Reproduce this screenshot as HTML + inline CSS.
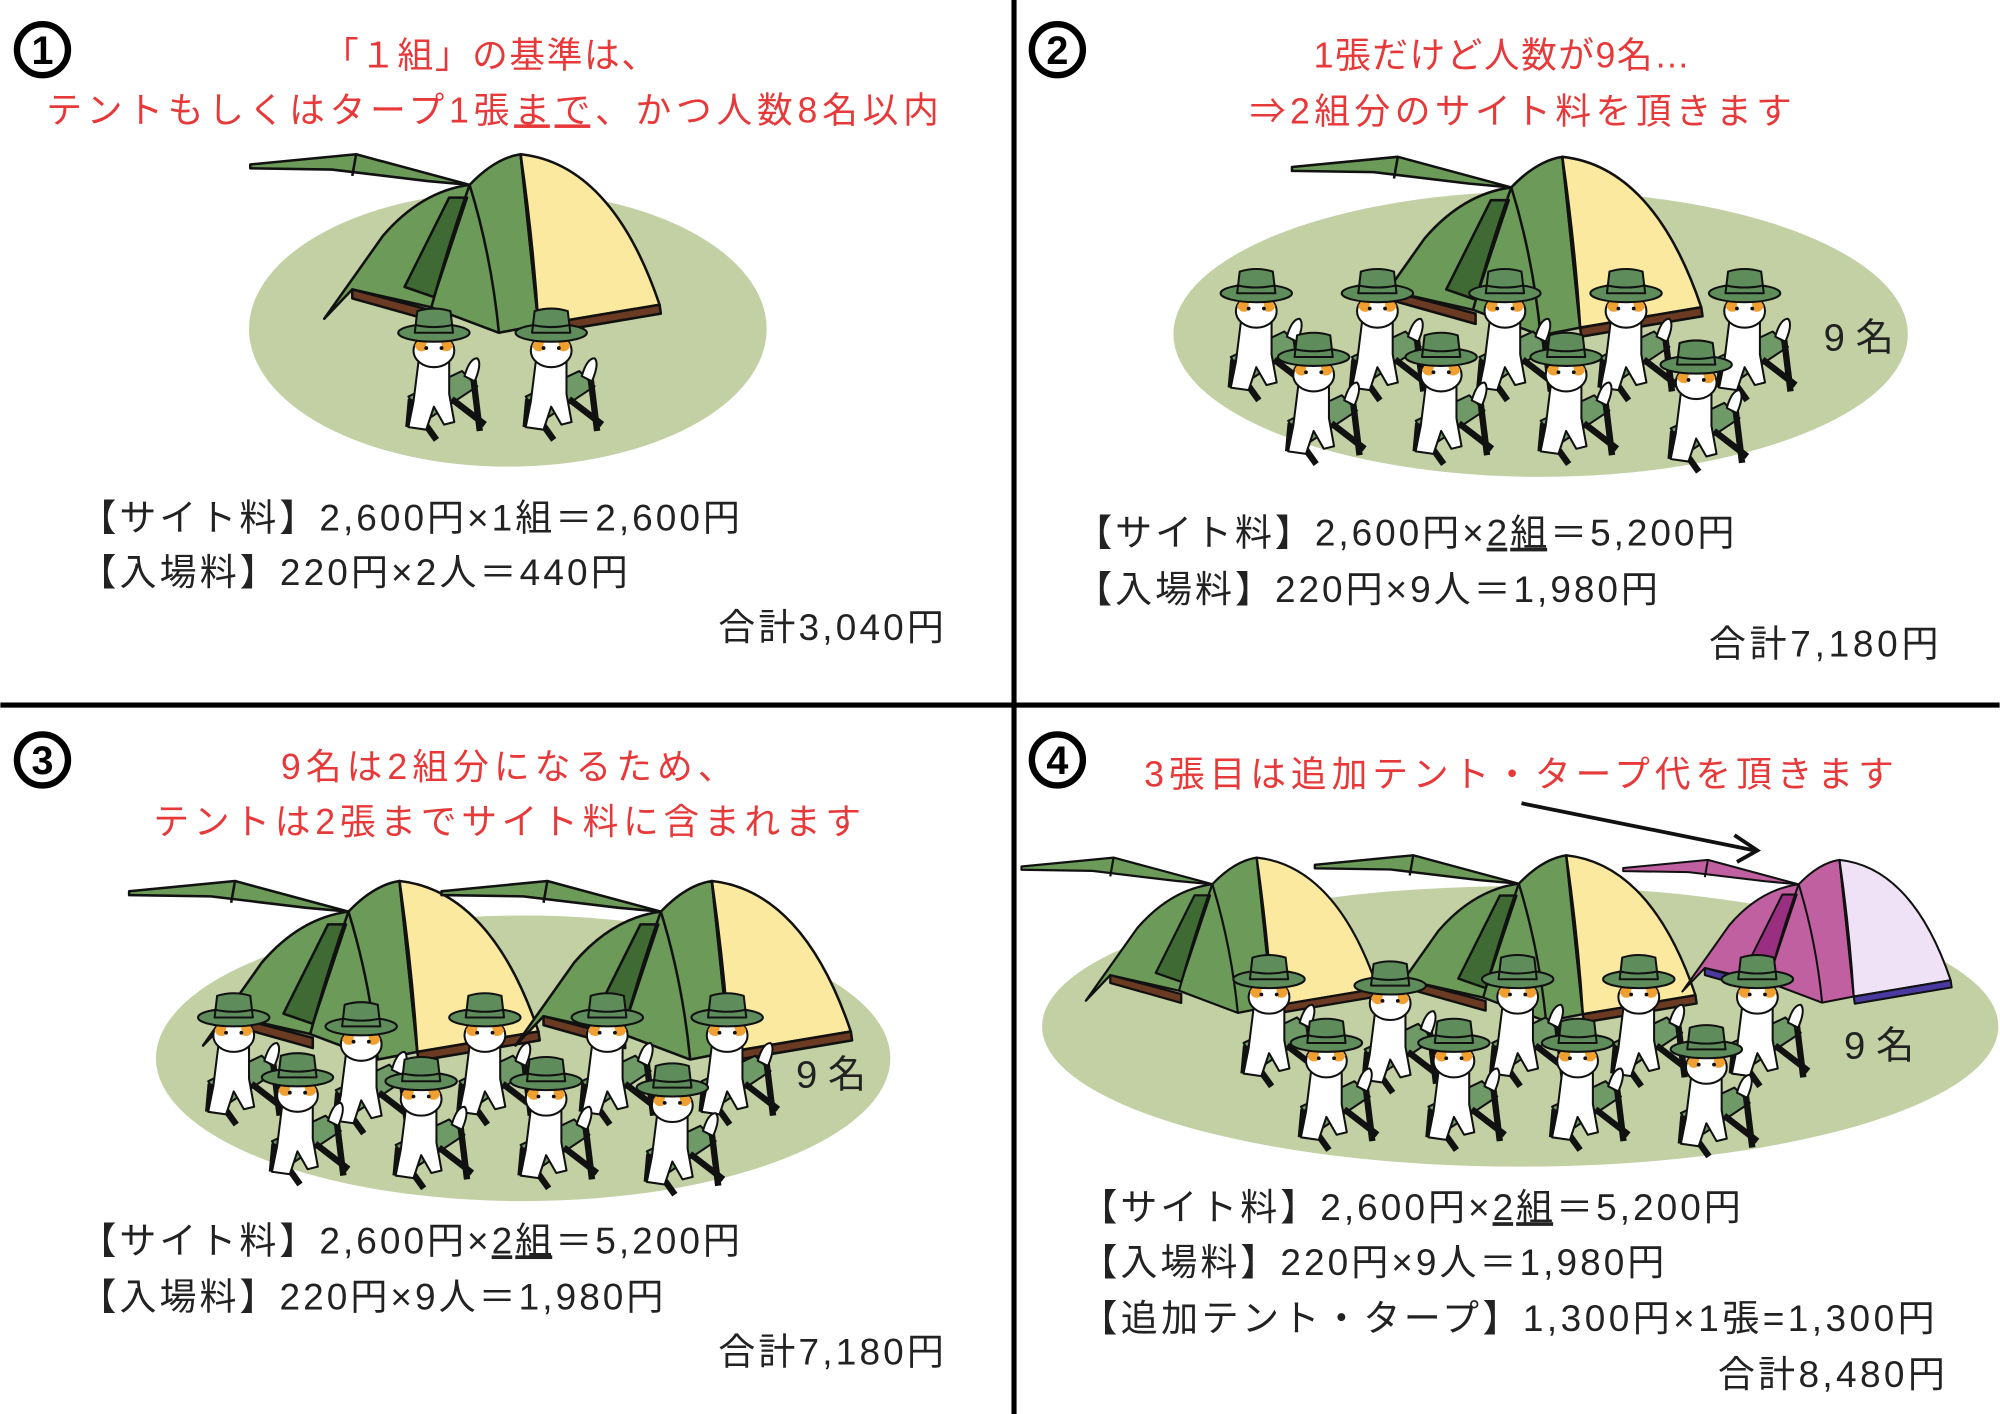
<!DOCTYPE html>
<html><head><meta charset="utf-8"><style>
html,body{margin:0;padding:0;background:#fff;}
svg{display:block;}
text{font-family:"Liberation Sans","Noto Sans CJK JP",sans-serif;}
.r{fill:#e8393a;font-size:28px;}
.b{fill:#222;font-size:29px;}
.n{fill:#222;font-size:30px;}
</style></head><body>
<svg width="2000" height="1414" viewBox="0 0 1568 1109" xmlns="http://www.w3.org/2000/svg">
<defs>
<g id="tent" stroke="#111" stroke-width="2" stroke-linejoin="round">
 <polygon points="196,129 279,121 368,145 335,142 260,133 196,132" fill="var(--c1)"/>
 <line x1="279" y1="121" x2="276" y2="138" />
 <path d="M254,250 L300,185 Q330,150 368,145 Q388,124 408,121 L422,255 L391,261 L338,241 L276,227 Z" fill="var(--c1)"/>
 <path d="M408,121 C455,126 492,165 517,239 L422,255 Z" fill="var(--c2)"/>
 <polygon points="352,155 366,155 340,233 317,225" fill="var(--c4)"/>
 <polygon points="276,227 340,244 340,252 276,234" fill="var(--c3)"/>
 <polygon points="422,255 517,239 518,246 423,262" fill="var(--c3)"/>
 <path d="M368,145 Q352,190 338,241" fill="none"/>
 <path d="M368,145 Q385,200 391,261" fill="none"/>
 <path d="M408,121 Q418,190 422,255" fill="none"/>
</g>
<g id="cat" stroke="#111" stroke-width="1.6" stroke-linejoin="round">
 <polygon points="-20,58 22,38 34,50 -8,78" fill="#6f9a68"/>
 <line x1="30" y1="36" x2="36" y2="85" stroke-width="5"/>
 <line x1="14" y1="60" x2="40" y2="80" stroke-width="5"/>
 <line x1="-8" y1="78" x2="2" y2="92" stroke-width="5"/>
 <line x1="-18" y1="60" x2="-20" y2="82" stroke-width="5"/>
 <path d="M24,42 q4,-14 10,-14 q4,4 -2,18 z" fill="#fff"/>
 <path d="M-12,30 L-16,62 L-20,82 L-6,84 L0,66 L8,80 L16,78 L12,56 L12,30 z" fill="#fff"/>
 <ellipse cx="0" cy="22" rx="16" ry="13" fill="#fff"/>
 <path d="M-15,18 q4,-8 10,-6 l-2,10 q-6,2 -8,-4z" fill="#f0a030" stroke="none"/>
 <path d="M15,18 q-4,-8 -10,-6 l2,10 q6,2 8,-4z" fill="#f0a030" stroke="none"/>
 <circle cx="-6" cy="20" r="1.5" fill="#111" stroke="none"/>
 <circle cx="6" cy="20" r="1.5" fill="#111" stroke="none"/>
 <ellipse cx="0" cy="8" rx="28" ry="7" fill="#5e8c5a"/>
 <path d="M-15,8 L-13,-9 Q0,-13 13,-9 L15,8 z" fill="#5e8c5a"/>
 <path d="M-14,2 Q0,5 14,2" fill="none"/>
</g>
</defs>

<line x1="795" y1="0" x2="795" y2="1109" stroke="#000" stroke-width="4"/>
<line x1="0" y1="553" x2="1568" y2="553" stroke="#000" stroke-width="4"/>

<g fill="none" stroke="#000" stroke-width="5">
<circle cx="33" cy="39" r="20"/><circle cx="829" cy="39" r="20"/>
<circle cx="33" cy="596" r="20"/><circle cx="829" cy="596" r="20"/>
</g>
<g font-size="31" font-weight="bold" text-anchor="middle" fill="#000">
<text x="33" y="50">1</text><text x="829" y="50">2</text>
<text x="33" y="607">3</text><text x="829" y="607">4</text>
</g>

<!-- panel 1 -->
<text class="r" x="253" y="53" textLength="262">「１組」の基準は、</text>
<text class="r" x="36" y="96" textLength="700">テントもしくはタープ1張<tspan text-decoration="underline">まで</tspan>、かつ人数8名以内</text>
<ellipse cx="398" cy="258" rx="203" ry="108" fill="#c2d0a4"/>
<use href="#tent" style="--c1:#6c9a58;--c2:#fbe9a0;--c3:#6a3a22;--c4:#3f6a34"/>
<use href="#cat" x="340" y="253"/><use href="#cat" x="432" y="253"/>
<text class="b" x="62" y="416" textLength="518">【サイト料】2,600円×1組＝2,600円</text>
<text class="b" x="62" y="459" textLength="430">【入場料】220円×2人＝440円</text>
<text class="b" x="563" y="502" textLength="177">合計3,040円</text>

<!-- panel 2 -->
<text class="r" x="1030" y="53" textLength="295">1張だけど人数が9名…</text>
<text class="r" x="980" y="97" textLength="425">⇒2組分のサイト料を頂きます</text>
<ellipse cx="1208" cy="262" rx="288" ry="112" fill="#c2d0a4"/>
<use href="#tent" x="817" y="2" style="--c1:#6c9a58;--c2:#fbe9a0;--c3:#6a3a22;--c4:#3f6a34"/>
<use href="#cat" x="985" y="222"/><use href="#cat" x="1080" y="222"/><use href="#cat" x="1180" y="222"/><use href="#cat" x="1275" y="222"/><use href="#cat" x="1368" y="222"/>
<use href="#cat" x="1030" y="272"/><use href="#cat" x="1130" y="272"/><use href="#cat" x="1228" y="272"/><use href="#cat" x="1330" y="278"/>
<text class="n" x="1430" y="275">9 名</text>
<text class="b" x="843" y="428" textLength="517">【サイト料】2,600円×<tspan text-decoration="underline">2組</tspan>＝5,200円</text>
<text class="b" x="843" y="472" textLength="457">【入場料】220円×9人＝1,980円</text>
<text class="b" x="1340" y="515" textLength="180">合計7,180円</text>

<!-- panel 3 -->
<text class="r" x="220" y="611" textLength="355">9名は2組分になるため、</text>
<text class="r" x="120" y="654" textLength="555">テントは2張までサイト料に含まれます</text>
<ellipse cx="410" cy="830" rx="288" ry="112" fill="#c2d0a4"/>
<use href="#tent" x="-95" y="570" style="--c1:#6c9a58;--c2:#fbe9a0;--c3:#6a3a22;--c4:#3f6a34"/>
<use href="#tent" x="150" y="570" style="--c1:#6c9a58;--c2:#fbe9a0;--c3:#6a3a22;--c4:#3f6a34"/>
<use href="#cat" x="183" y="790"/><use href="#cat" x="283" y="797"/><use href="#cat" x="380" y="790"/><use href="#cat" x="476" y="790"/><use href="#cat" x="570" y="790"/>
<use href="#cat" x="233" y="837"/><use href="#cat" x="330" y="840"/><use href="#cat" x="428" y="840"/><use href="#cat" x="527" y="845"/>
<text class="n" x="624" y="853">9 名</text>
<text class="b" x="62" y="983" textLength="518">【サイト料】2,600円×<tspan text-decoration="underline">2組</tspan>＝5,200円</text>
<text class="b" x="62" y="1027" textLength="458">【入場料】220円×9人＝1,980円</text>
<text class="b" x="563" y="1070" textLength="177">合計7,180円</text>

<!-- panel 4 -->
<text class="r" x="897" y="617" textLength="588">3張目は追加テント・タープ代を頂きます</text>
<line x1="1193" y1="630" x2="1376" y2="667" stroke="#111" stroke-width="3"/>
<polyline points="1360,655 1378,667 1362,676" fill="none" stroke="#111" stroke-width="3"/>
<ellipse cx="1192" cy="805" rx="375" ry="110" fill="#c2d0a4"/>
<g transform="translate(800,670) scale(0.87) translate(-195,-118)"><use href="#tent" style="--c1:#6c9a58;--c2:#fbe9a0;--c3:#6a3a22;--c4:#3f6a34"/></g>
<g transform="translate(1030,668) scale(0.93) translate(-195,-118)"><use href="#tent" style="--c1:#6c9a58;--c2:#fbe9a0;--c3:#6a3a22;--c4:#3f6a34"/></g>
<g transform="translate(1272,672) scale(0.8) translate(-195,-118)"><use href="#tent" style="--c1:#c060a0;--c2:#efe2f6;--c3:#4a3aa0;--c4:#9a2e80"/></g>
<use href="#cat" x="995" y="760"/><use href="#cat" x="1090" y="765"/><use href="#cat" x="1190" y="760"/><use href="#cat" x="1285" y="760"/><use href="#cat" x="1378" y="760"/>
<use href="#cat" x="1040" y="810"/><use href="#cat" x="1140" y="810"/><use href="#cat" x="1237" y="810"/><use href="#cat" x="1338" y="815"/>
<text class="n" x="1446" y="830">9 名</text>
<text class="b" x="847" y="957" textLength="518">【サイト料】2,600円×<tspan text-decoration="underline">2組</tspan>＝5,200円</text>
<text class="b" x="847" y="1000" textLength="458">【入場料】220円×9人＝1,980円</text>
<text class="b" x="847" y="1044" textLength="670">【追加テント・タープ】1,300円×1張=1,300円</text>
<text class="b" x="1347" y="1088" textLength="178">合計8,480円</text>
</svg>
</body></html>
